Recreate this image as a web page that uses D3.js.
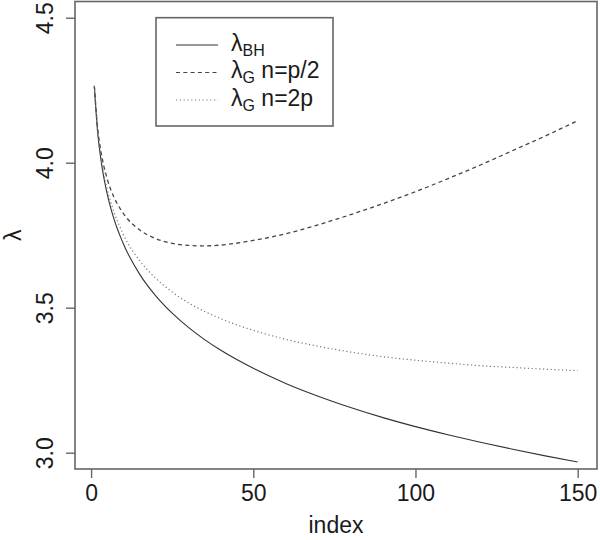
<!DOCTYPE html>
<html>
<head>
<meta charset="utf-8">
<script src="https://cdn.jsdelivr.net/npm/d3@7"></script>
<style>
  body { margin: 0; background: #fff; }
  svg { display: block; font-family: "Liberation Sans", Arial, Helvetica, sans-serif; }
</style>
</head>
<body>
<div id="chart"></div>
<script>
let idx = [1, 2, 3, 4, 5, 6, 7, 8, 9, 10, 15, 20, 25, 30, 35, 40, 50, 60, 70, 80, 90, 100, 110, 120, 130, 140, 150];

// lambda_BH (solid)
let lambdaBH = [4.265, 4.107, 4.013, 3.944, 3.891, 3.846, 3.808, 3.775, 3.746, 3.719, 3.615, 3.540, 3.481, 3.432, 3.390, 3.353,
    3.291, 3.239, 3.195, 3.156, 3.121, 3.090, 3.062, 3.036, 3.012, 2.989, 2.968];

// lambda_G n=p/2 (dashed)
let lambdaGhalf = [4.265, 4.122, 4.041, 3.985, 3.943, 3.909, 3.882, 3.860, 3.841, 3.824, 3.768, 3.738, 3.722, 3.715, 3.713, 3.716,
    3.732, 3.755, 3.786, 3.821, 3.859, 3.900, 3.945, 3.992, 4.042, 4.092, 4.145];

// lambda_G n=2p (dotted)
let lambdaGtwo = [4.265, 4.112, 4.022, 3.957, 3.907, 3.866, 3.831, 3.801, 3.776, 3.751, 3.662, 3.601, 3.554, 3.517, 3.487, 3.462,
    3.422, 3.391, 3.367, 3.347, 3.331, 3.319, 3.309, 3.300, 3.294, 3.288, 3.283];

let xTicks = [0, 50, 100, 150];
let yTicks = [3.0, 3.5, 4.0, 4.5];

let legendItems = [
    {main: 'λ', sub: 'BH', rest: '', dash: null, color: '#333'},
    {main: 'λ', sub: 'G', rest: ' n=p/2', dash: '4,3.3', color: '#444'},
    {main: 'λ', sub: 'G', rest: ' n=2p', dash: '1.2,2.6', color: '#777'}
];

function draw_chart() {
    let width = 600, height = 540;
    let left = 75, right = 597, top = 1.5, bottom = 469;

    let svg = d3.select('#chart').append('svg')
        .attr('width', width)
        .attr('height', height);

    let x = d3.scaleLinear().domain([-4.96, 155.96]).range([left, right]);
    let y = d3.scaleLinear().domain([2.9438, 4.5559]).range([bottom, top]);

    // lines
    let series = [
        {vals: lambdaBH, dash: null, color: '#333', w: 1.1},
        {vals: lambdaGhalf, dash: '4,3.3', color: '#444', w: 1.3},
        {vals: lambdaGtwo, dash: '1.2,2.6', color: '#777', w: 1.2}
    ];
    let line = d3.line()
        .x(d => x(d[0]))
        .y(d => y(d[1]))
        .curve(d3.curveMonotoneX);

    svg.append('g').attr('class', 'lines')
        .selectAll('path')
        .data(series)
        .enter()
        .append('path')
        .attr('d', s => line(idx.map((v, i) => [v, s.vals[i]])))
        .attr('fill', 'none')
        .attr('stroke', s => s.color)
        .attr('stroke-width', s => s.w)
        .attr('stroke-dasharray', s => s.dash);

    // box
    svg.append('rect')
        .attr('x', left).attr('y', top)
        .attr('width', right - left).attr('height', bottom - top)
        .attr('fill', 'none')
        .attr('stroke', '#666')
        .attr('stroke-width', 1.6);

    // x axis
    let gx = svg.append('g')
        .attr('transform', `translate(0,${bottom})`)
        .call(d3.axisBottom(x).tickValues(xTicks).tickSize(9).tickSizeOuter(0));
    gx.select('.domain').remove();
    gx.selectAll('line').attr('stroke', '#666').attr('stroke-width', 1.4);
    gx.selectAll('text')
        .attr('y', 16)
        .attr('fill', '#1a1a1a')
        .style('font-size', '23px');

    // y axis
    let gy = svg.append('g')
        .attr('transform', `translate(${left},0)`)
        .call(d3.axisLeft(y).tickValues(yTicks).tickFormat(d3.format('.1f')).tickSize(9).tickSizeOuter(0));
    gy.select('.domain').remove();
    gy.selectAll('line').attr('stroke', '#666').attr('stroke-width', 1.4);
    gy.selectAll('text')
        .attr('transform', 'rotate(-90)')
        .attr('x', 0)
        .attr('y', -22)
        .attr('dy', 0)
        .attr('text-anchor', 'middle')
        .attr('fill', '#1a1a1a')
        .style('font-size', '23px');

    // axis titles
    svg.append('text')
        .text('index')
        .attr('x', (left + right) / 2)
        .attr('y', 533)
        .attr('text-anchor', 'middle')
        .attr('fill', '#1a1a1a')
        .style('font-size', '23px');

    svg.append('text')
        .text('λ')
        .attr('transform', `translate(21,${(top + bottom) / 2}) rotate(-90)`)
        .attr('text-anchor', 'middle')
        .attr('fill', '#1a1a1a')
        .style('font-size', '23px');

    // legend
    let legend = svg.append('g').attr('class', 'legend');
    legend.append('rect')
        .attr('x', 156).attr('y', 17.7)
        .attr('width', 177).attr('height', 108.3)
        .attr('fill', '#fff')
        .attr('stroke', '#666')
        .attr('stroke-width', 1.6);

    let rows = legend.selectAll('g.row')
        .data(legendItems)
        .enter()
        .append('g')
        .attr('class', 'row')
        .attr('transform', (d, i) => `translate(0,${45 + i * 27.5})`);

    rows.append('line')
        .attr('x1', 176).attr('x2', 218)
        .attr('y1', 0).attr('y2', 0)
        .attr('stroke', d => d.color)
        .attr('stroke-width', 1.2)
        .attr('stroke-dasharray', d => d.dash);

    let t = rows.append('text')
        .attr('x', 231)
        .attr('y', 5.5)
        .attr('fill', '#1a1a1a')
        .style('font-size', '23px');
    t.append('tspan').text(d => d.main);
    t.append('tspan').text(d => d.sub).attr('dy', 5).style('font-size', '16px');
    t.append('tspan').text(d => d.rest).attr('dy', -5);
}

draw_chart();
</script>
</body>
</html>
